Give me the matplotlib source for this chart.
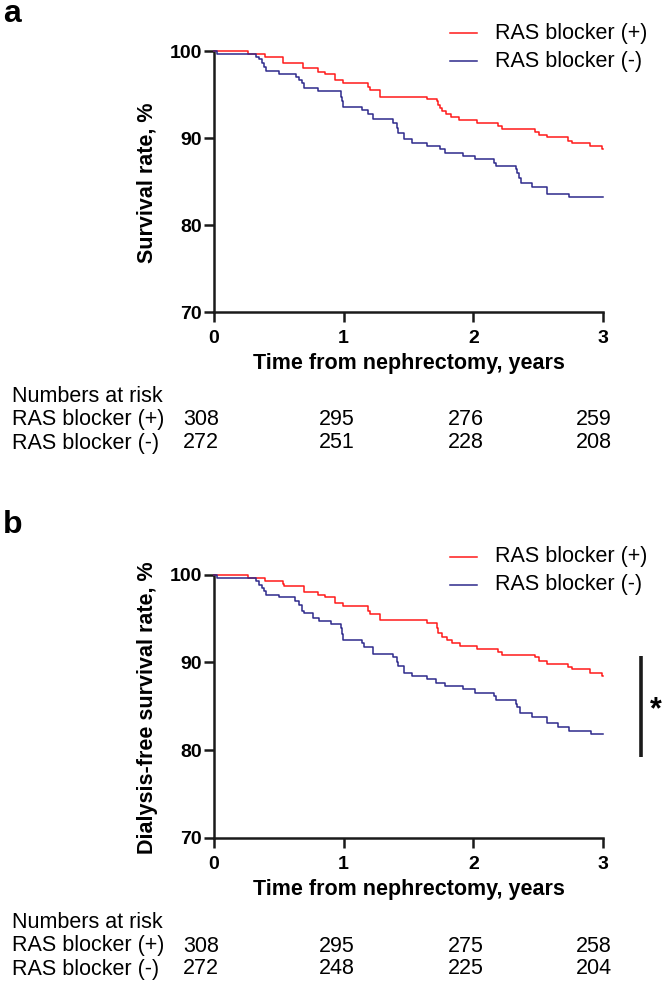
import matplotlib
matplotlib.use("Agg")
import matplotlib.pyplot as plt
from matplotlib.lines import Line2D

plt.rcParams['font.family'] = ['Liberation Sans', 'DejaVu Sans']

# ---------------- data ----------------
series_labels = ["RAS blocker (+)", "RAS blocker (-)"]
colors = ["#FF1A1A", "#2E2A8C"]

# Panel a: overall survival
a_pos_t = [0, 0.265, 0.393, 0.53, 0.69, 0.80, 0.856, 0.933, 0.997, 1.19, 1.20, 1.28, 1.64,
           1.717, 1.725, 1.74, 1.76, 1.79, 1.825, 1.89, 2.025, 2.19, 2.22, 2.475, 2.51,
           2.565, 2.73, 2.76, 2.90, 2.99, 3.0]
a_pos_s = [100, 99.6, 99.35, 98.66, 98.0, 97.6, 97.36, 96.67, 96.36, 95.9, 95.5, 94.75, 94.45,
           94.2, 93.8, 93.4, 93.1, 92.8, 92.45, 92.07, 91.76, 91.4, 91.07, 90.7, 90.4,
           90.1, 89.7, 89.4, 89.08, 88.7, 88.7]
a_neg_t = [0, 0.02, 0.324, 0.35, 0.37, 0.385, 0.40, 0.50, 0.632, 0.658, 0.676, 0.694, 0.80,
           0.977, 0.985, 0.995, 1.138, 1.19, 1.23, 1.378, 1.413, 1.42, 1.465, 1.53, 1.645,
           1.74, 1.78, 1.92, 2.01, 2.16, 2.175, 2.33, 2.34, 2.355, 2.365, 2.455, 2.57, 2.74, 3.0]
a_neg_s = [100, 99.6, 99.35, 99.05, 98.66, 98.2, 97.7, 97.36, 97.05, 96.67, 96.3, 95.8, 95.4,
           94.75, 94.2, 93.6, 93.2, 92.8, 92.15, 91.7, 91.15, 90.6, 89.85, 89.46, 89.08,
           88.7, 88.3, 87.93, 87.55, 87.17, 86.8, 86.4, 86.0, 85.4, 84.8, 84.4, 83.6, 83.2, 83.2]

# Panel b: dialysis-free survival
b_pos_t = [0, 0.265, 0.39, 0.53, 0.54, 0.694, 0.80, 0.856, 0.933, 0.997, 1.19, 1.20, 1.28, 1.64,
           1.717, 1.725, 1.76, 1.794, 1.833, 1.897, 2.025, 2.19, 2.22, 2.475, 2.51, 2.565,
           2.73, 2.76, 2.90, 2.995, 3.0]
b_pos_s = [100, 99.6, 99.27, 98.97, 98.67, 98.0, 97.7, 97.4, 96.8, 96.4, 95.9, 95.5, 94.8, 94.45,
           93.9, 93.3, 92.9, 92.5, 92.2, 91.85, 91.5, 91.2, 90.83, 90.57, 90.2, 89.8,
           89.5, 89.2, 88.8, 88.44, 88.44]
b_neg_t = [0, 0.02, 0.324, 0.35, 0.37, 0.385, 0.40, 0.50, 0.625, 0.658, 0.676, 0.694, 0.766,
           0.812, 0.90, 0.977, 0.985, 0.995, 1.138, 1.156, 1.23, 1.378, 1.413, 1.42, 1.465,
           1.53, 1.645, 1.712, 1.78, 1.92, 2.01, 2.16, 2.175, 2.33, 2.34, 2.36, 2.455, 2.57,
           2.65, 2.74, 2.905, 3.0]
b_neg_s = [100, 99.6, 99.27, 98.86, 98.5, 98.1, 97.7, 97.4, 97.0, 96.5, 95.9, 95.6, 95.1,
           94.7, 94.4, 93.9, 93.2, 92.5, 92.2, 91.7, 91.0, 90.6, 90.0, 89.58, 88.8,
           88.44, 88.07, 87.7, 87.3, 86.93, 86.55, 86.17, 85.7, 85.3, 84.95, 84.2, 83.8, 83.07,
           82.6, 82.2, 81.85, 81.85]

risk_times = [0, 1, 2, 3]
a_risk_pos = [308, 295, 276, 259]
a_risk_neg = [272, 251, 228, 208]
b_risk_pos = [308, 295, 275, 258]
b_risk_neg = [272, 248, 225, 204]

x_ticks = [0, 1, 2, 3]
y_ticks = [70, 80, 90, 100]
xlabel = "Time from nephrectomy, years"
ylabels = ["Survival rate, %", "Dialysis-free survival rate, %"]

# ---------------- layout ----------------
W, H = 664, 984
fig = plt.figure(figsize=(W / 100, H / 100), dpi=100)


def fx(px):
    return px / W


def fy(py):
    return 1 - py / H


AX_L, AX_R = 214, 603
panels = [
    dict(top=51, bottom=312, pos=(a_pos_t, a_pos_s), neg=(a_neg_t, a_neg_s),
         risk=(a_risk_pos, a_risk_neg), ylabel=ylabels[0], letter="a", letter_y=22),
    dict(top=574.5, bottom=838, pos=(b_pos_t, b_pos_s), neg=(b_neg_t, b_neg_s),
         risk=(b_risk_pos, b_risk_neg), ylabel=ylabels[1], letter="b", letter_y=533),
]

spine_c = "#1a1a1a"
risk_dx = [-0.10, -0.05, -0.06, -0.07]

for p in panels:
    ax = fig.add_axes([fx(AX_L), fy(p['bottom']), (AX_R - AX_L) / W, (p['bottom'] - p['top']) / H])
    for (t, s), c in zip([p['pos'], p['neg']], colors):
        ax.plot(t, s, drawstyle='steps-post', color=c, lw=1.1, clip_on=False, zorder=3)
    ax.set_xlim(0, 3)
    ax.set_ylim(70, 100)
    ax.set_xticks(x_ticks)
    ax.set_yticks(y_ticks)
    for sp in ['top', 'right']:
        ax.spines[sp].set_visible(False)
    for sp in ['left', 'bottom']:
        ax.spines[sp].set_linewidth(1.8)
        ax.spines[sp].set_color(spine_c)
    ax.tick_params(axis='both', direction='out', length=7, width=1.8, color=spine_c,
                   labelsize=14)
    ax.tick_params(axis='y', pad=1.5)
    ax.tick_params(axis='x', pad=6)
    for lab in ax.get_xticklabels() + ax.get_yticklabels():
        lab.set_fontweight('bold')
    ax.patch.set_alpha(0)

    # axis labels
    b = p['bottom']
    fig.text(fx(408.5), fy(b + 52), xlabel, ha='center', va='center',
             fontsize=15.5, fontweight='bold')
    fig.text(fx(147), fy((p['top'] + b) / 2 + 1), p['ylabel'], ha='center', va='center',
             rotation=90, fontsize=15.5, fontweight='bold')

    # panel letter
    fig.text(fx(3), fy(p['letter_y']), p['letter'], ha='left', va='baseline',
             fontsize=23, fontweight='bold')

    # legend (manual)
    for i, (lab, c) in enumerate(zip(series_labels, colors)):
        ly = p['top'] - 18 + i * 28
        fig.add_artist(Line2D([fx(450), fx(477)], [fy(ly), fy(ly)], color=c, lw=1.1))
        fig.text(fx(495), fy(ly), lab, ha='left', va='center', fontsize=15.5)

    # numbers at risk
    fig.text(fx(12), fy(b + 85), "Numbers at risk", ha='left', va='center', fontsize=15.5)
    for j, (lab, vals) in enumerate(zip(series_labels, p['risk'])):
        ry = b + 108 + j * 23
        fig.text(fx(12), fy(ry), lab, ha='left', va='center', fontsize=15.5)
        for tt, v, dx in zip(risk_times, vals, risk_dx):
            xpix = AX_L + (tt + dx) * (AX_R - AX_L) / 3
            fig.text(fx(xpix), fy(ry), str(v), ha='center', va='center', fontsize=15.5)

    if p['letter'] == 'b':
        ax.plot([3.29, 3.29], [79.2, 90.7], color=spine_c, lw=2.6, clip_on=False,
                solid_capstyle='butt')
        ax.text(3.41, 84.6, "*", ha='center', va='center', fontsize=22, fontweight='bold',
                clip_on=False)

fig.savefig("out.png", dpi=100)
